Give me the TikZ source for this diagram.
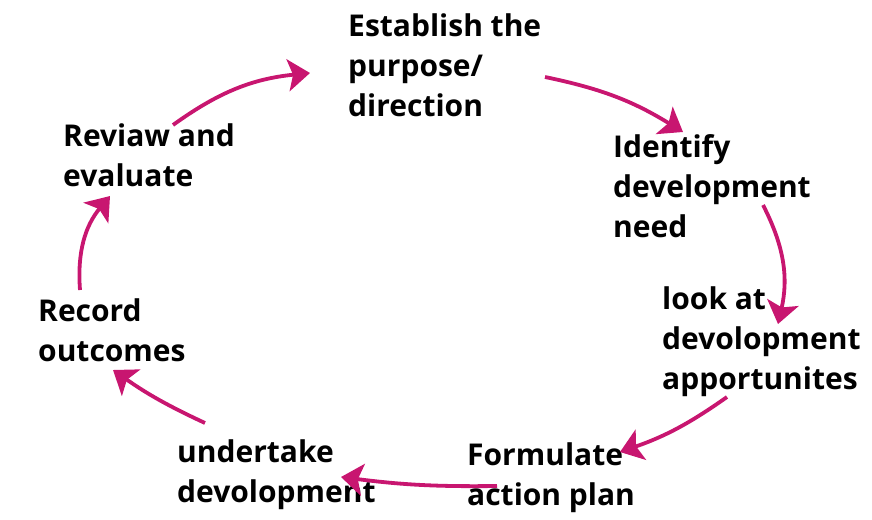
\documentclass[tikz,border=0pt]{standalone}
\usepackage{fontspec}
\setmainfont{Open Sans}
\usepackage{tikz}
\usetikzlibrary{arrows.meta}
\definecolor{cyc}{RGB}{200,22,112}

\begin{document}
\begin{tikzpicture}[x=1pt,y=1pt]
    \tikzstyle{e} = [draw, cyc, line width=3.8pt, -{Stealth[length=22pt,width=32pt,inset=5pt]}]
    \tikzstyle{t} = [anchor=north west, inner sep=0pt, align=left,
                     font=\bfseries\fontsize{30}{40}\selectfont]
    \useasboundingbox (0,0) rectangle (872,-519);
    % steps of the cycle
    \node[t] (est) at (348,-14) {Establish the\\purpose/\\direction};
    \node[t] (ident) at (613,-134) {Identify\\development\\need};
    \node[t] (look) at (662,-287) {look at\\devolopment\\apportunites};
    \node[t] (form) at (467,-443) {Formulate\\action plan};
    \node[t] (under) at (177,-440) {undertake\\devolopment};
    \node[t] (rec) at (38,-299) {Record\\outcomes};
    \node[t] (rev) at (63,-124) {Reviaw and\\evaluate};
    % arrows round the cycle
    \draw [e] ([shift={(197,-63)}]est.north west) to[bend left=10] ([shift={(70,2)}]ident.north west);
    \draw [e] ([shift={(150,-71)}]ident.north west) to[bend left=20] ([shift={(116,-37)}]look.north west);
    \draw [e] ([shift={(65,-110)}]look.north west) to[bend left=8] ([shift={(153,-9)}]form.north west);
    \draw [e] ([shift={(30,-43)}]form.north west) to[bend left=4] ([shift={(164,-37)}]under.north west);
    \draw [e] ([shift={(28,17)}]under.north west) to[bend left=5] ([shift={(75,-71)}]rec.north west);
    \draw [e] ([shift={(42,9)}]rec.north west) to[bend left=22] ([shift={(47,-72)}]rev.north west);
    \draw [e] ([shift={(110,-1)}]rev.north west) to[bend left=15] ([shift={(-38,-59)}]est.north west);
\end{tikzpicture}
\end{document}
